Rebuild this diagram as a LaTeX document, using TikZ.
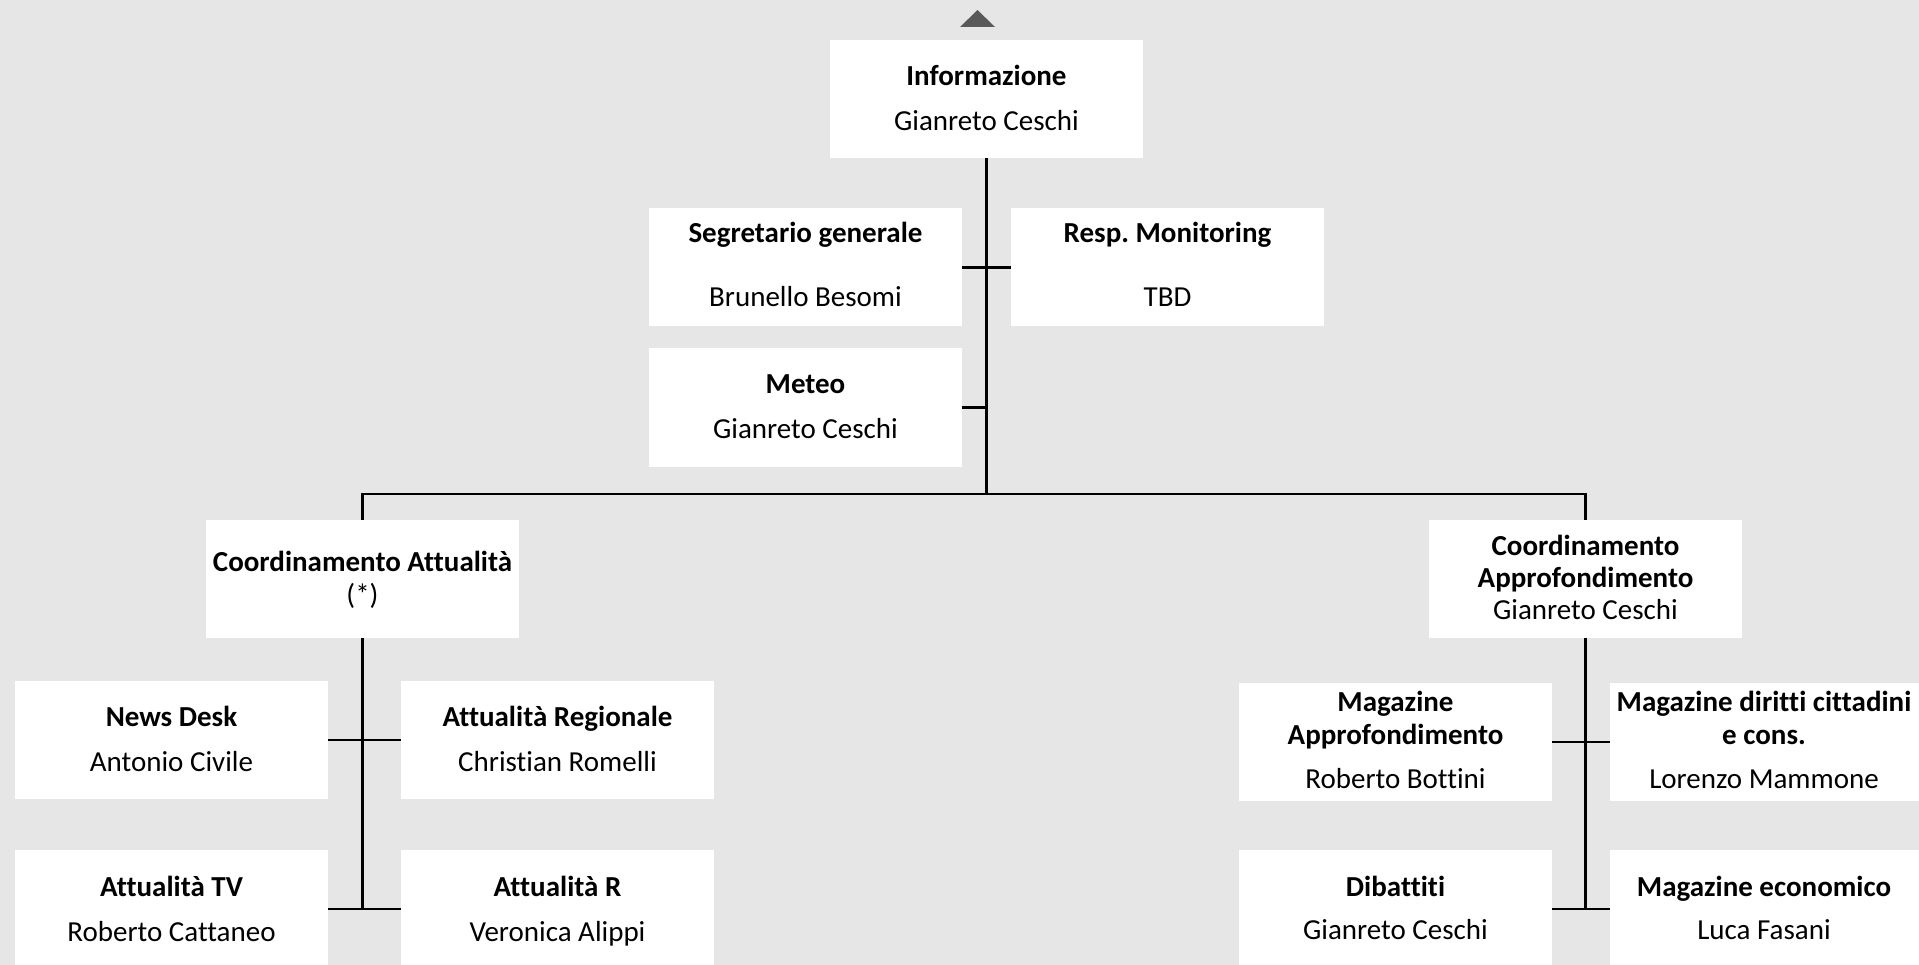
\documentclass[tikz,border=0pt]{standalone}
\usepackage{fontspec}
\setmainfont[Ligatures={NoCommon,NoContextual}]{Carlito}
\frenchspacing
\definecolor{bg}{HTML}{E6E6E6}
\definecolor{tri}{HTML}{595959}
\begin{document}
\begin{tikzpicture}[x=1pt,y=-1pt,
  orgbox/.style={fill=white, draw=none, minimum width=313pt, minimum height=118pt, inner sep=0pt, outer sep=0pt},
  conn/.style={line width=2.6pt, draw=black},
  ttl/.style={anchor=base, font=\fontsize{29}{34}\selectfont\bfseries, inner sep=0pt},
  nm/.style={anchor=base, font=\fontsize{29}{34}\selectfont, inner sep=0pt}]
\fill[bg] (0,0) rectangle (1919,965);
\useasboundingbox (0,0) rectangle (1919,965);
\clip (0,0) rectangle (1919,965);
% triangle
\fill[tri] (960,27) -- (977.5,10) -- (995,27) -- cycle;
% boxes
\node[orgbox] (info) at (986.5,99.5) {};
\node[orgbox] (segr) at (805.5,267.5) {};
\node[orgbox] (resp) at (1167.5,267.5) {};
\node[orgbox] (meteo) at (805.5,407.5) {};
\node[orgbox] (att) at (362.5,579) {};
\node[orgbox] (appr) at (1585.5,579) {};
\node[orgbox] (news) at (171.5,740) {};
\node[orgbox] (reg) at (557.5,740) {};
\node[orgbox] (tv) at (171.5,909) {};
\node[orgbox] (attr) at (557.5,909) {};
\node[orgbox] (magappr) at (1395.5,742) {};
\node[orgbox] (magdir) at (1766.5,742) {};
\node[orgbox] (dib) at (1395.5,909) {};
\node[orgbox] (magecon) at (1766.5,909) {};
% connectors
\coordinate (busmid) at (986.5,494);
\draw[conn] (info.south) -- (busmid);
\draw[conn] (segr.east) -- (resp.west);
\draw[conn] (meteo.east) -- (meteo.east -| info.south);
\draw[conn] (att.north) |- (busmid) -| (appr.north);
\draw[conn] (att.south) -- (att.south |- tv.east);
\draw[conn] (news.east) -- (reg.west);
\draw[conn] (tv.east) -- (attr.west);
\draw[conn] (appr.south) -- (appr.south |- dib.east);
\draw[conn] (magappr.east) -- (magdir.west);
\draw[conn] (dib.east) -- (magecon.west);
% texts
\node[ttl] (info-t) at (986.5,86) {Informazione};
\node[nm] (info-n) at (986.5,131) {Gianreto Ceschi};
\node[ttl] (segr-t) at (805.5,243) {Segretario generale};
\node[nm] (segr-n) at (805.5,307) {Brunello Besomi};
\node[ttl] (resp-t) at (1167.5,243) {Resp. Monitoring};
\node[nm] (resp-n) at (1167.5,307) {TBD};
\node[ttl] (meteo-t) at (805.5,393) {Meteo};
\node[nm] (meteo-n) at (805.5,438) {Gianreto Ceschi};
\node[ttl] (att-t) at (362.5,571) {Coordinamento Attualità};
\node[nm] (att-n) at (362.5,604) {(*)};
\node[ttl] (appr-t1) at (1585.5,555) {Coordinamento};
\node[ttl] (appr-t2) at (1585.5,587) {Approfondimento};
\node[nm] (appr-n) at (1585.5,619) {Gianreto Ceschi};
\node[ttl] (news-t) at (171.5,726) {News Desk};
\node[nm] (news-n) at (171.5,771) {Antonio Civile};
\node[ttl] (reg-t) at (557.5,726) {Attualità Regionale};
\node[nm] (reg-n) at (557.5,771) {Christian Romelli};
\node[ttl] (tv-t) at (171.5,896) {Attualità TV};
\node[nm] (tv-n) at (171.5,941) {Roberto Cattaneo};
\node[ttl] (attr-t) at (557.5,896) {Attualità R};
\node[nm] (attr-n) at (557.5,941) {Veronica Alippi};
\node[ttl] (magappr-t1) at (1395.5,711) {Magazine};
\node[ttl] (magappr-t2) at (1395.5,744) {Approfondimento};
\node[nm] (magappr-n) at (1395.5,788) {Roberto Bottini};
\node[ttl] (magdir-t1) at (1764,711) {Magazine diritti cittadini};
\node[ttl] (magdir-t2) at (1764,744) {e cons.};
\node[nm] (magdir-n) at (1764,788) {Lorenzo Mammone};
\node[ttl] (dib-t) at (1395.5,896) {Dibattiti};
\node[nm] (dib-n) at (1395.5,939) {Gianreto Ceschi};
\node[ttl] (magecon-t) at (1764,896) {Magazine economico};
\node[nm] (magecon-n) at (1764,939) {Luca Fasani};
\end{tikzpicture}
\end{document}
